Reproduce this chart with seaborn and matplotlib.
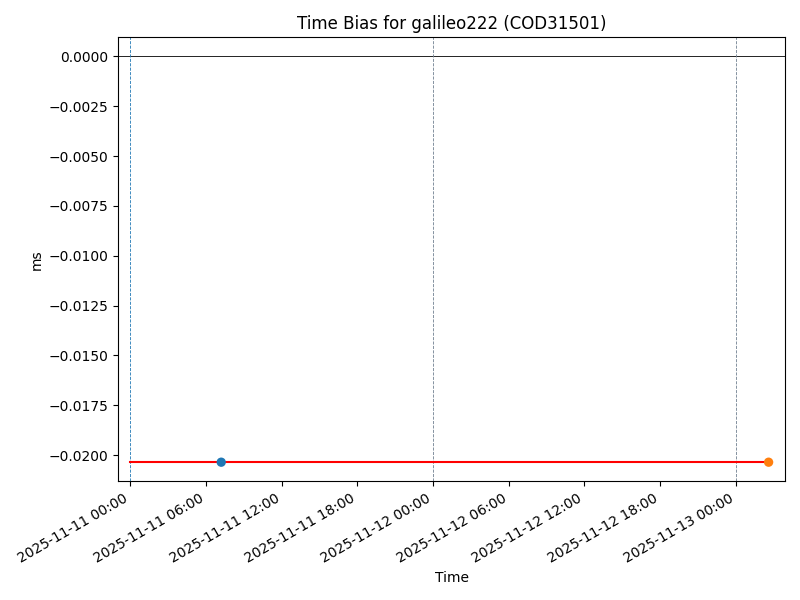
import pandas as pd
import numpy as np
import matplotlib
matplotlib.use('Agg')
import matplotlib.pyplot as plt
import matplotlib.dates as mdates
import seaborn as sns

# data
station = 'galileo222'
product = 'COD31501'
line_times = pd.to_datetime(['2025-11-11 00:00', '2025-11-13 02:37'])
line_bias = [-0.02035, -0.02035]
point_times = pd.to_datetime(['2025-11-11 07:12', '2025-11-13 02:37'])
point_bias = [-0.02035, -0.02035]
point_labels = ['a', 'b']
day_marks = pd.to_datetime(['2025-11-11', '2025-11-12', '2025-11-13'])

fig, ax = plt.subplots(figsize=(8, 6), dpi=100)

ax.axhline(0, color='black', lw=0.6)
ax.axvline(day_marks[0], color='C0', ls='--', lw=0.6)
for d in day_marks[1:]:
    ax.axvline(d, color='slategray', ls='--', lw=0.6)

sns.lineplot(x=line_times, y=line_bias, color='red', ax=ax, lw=1.5)
pts = pd.DataFrame({'t': point_times, 'b': point_bias, 'k': point_labels})
sns.scatterplot(data=pts, x='t', y='b', hue='k', palette=['C0', 'C1'],
                s=45, edgecolor='none', legend=False, ax=ax, zorder=3)

ax.set_xlim(pd.Timestamp('2025-11-10 23:03'), pd.Timestamp('2025-11-13 03:55'))
ax.set_ylim(-0.02131, 0.00095)
ax.xaxis.set_major_locator(mdates.HourLocator(byhour=[0, 6, 12, 18]))
ax.xaxis.set_major_formatter(mdates.DateFormatter('%Y-%m-%d %H:%M'))
ax.set_title(f'Time Bias for {station} ({product})')
ax.set_xlabel('Time')
ax.set_ylabel('ms')
fig.autofmt_xdate()
plt.tight_layout()
plt.savefig('out.png')
